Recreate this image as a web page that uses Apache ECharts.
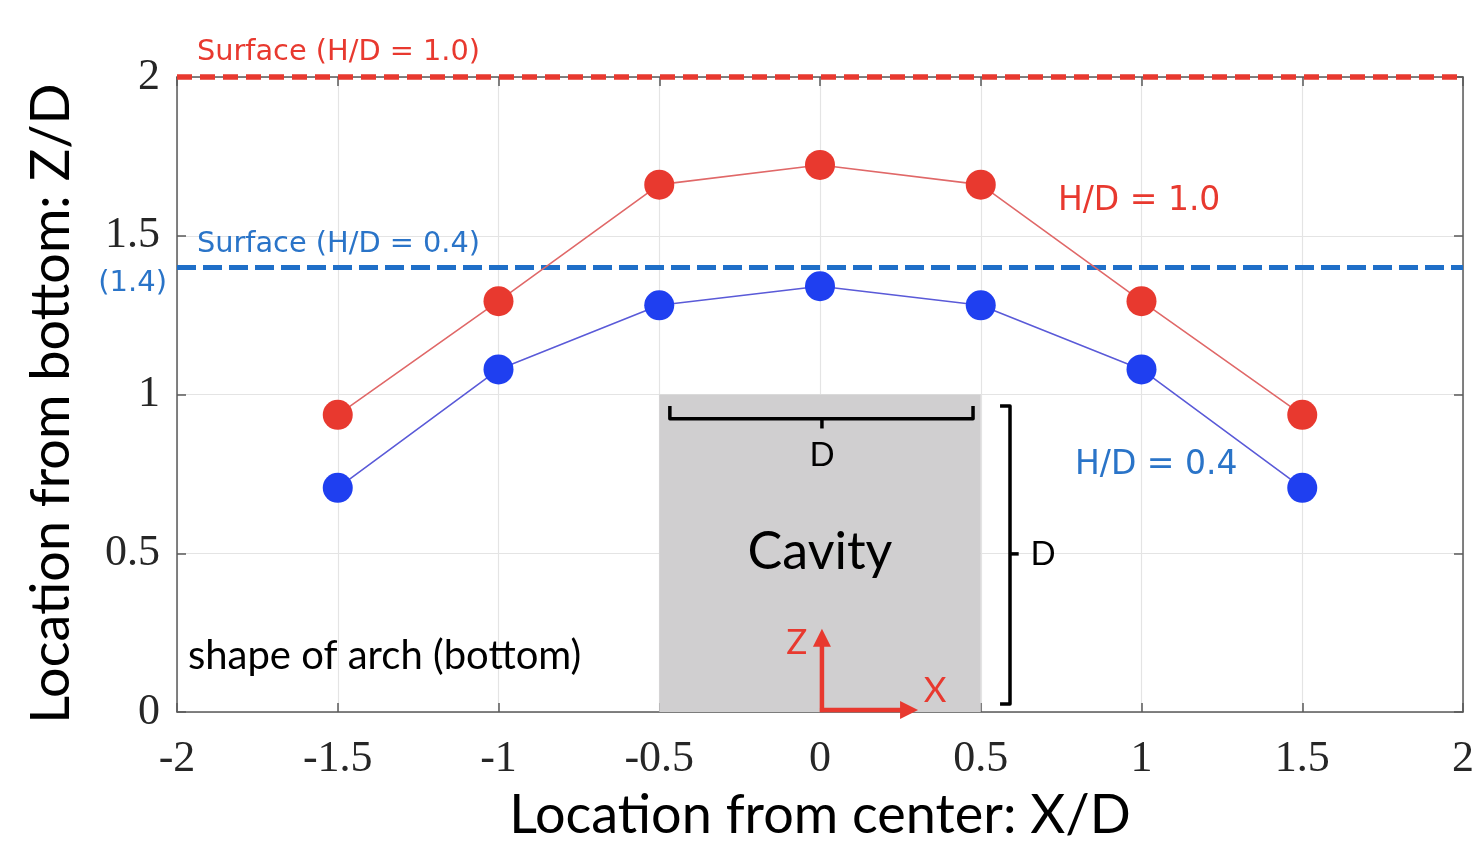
<!DOCTYPE html>
<html>
<head>
<meta charset="utf-8">
<script src="https://cdn.jsdelivr.net/npm/echarts@6/dist/echarts.min.js"></script>
<style>html,body{margin:0;padding:0;background:#fff}#c{width:1477px;height:848px}</style>
</head>
<body>
<div id="c"></div>
<script>
// ---- data ----
const xPositions = [-1.5, -1, -0.5, 0, 0.5, 1, 1.5];
const archHD10 = [0.936, 1.294, 1.661, 1.723, 1.661, 1.294, 0.936];
const archHD04 = [0.706, 1.079, 1.281, 1.341, 1.281, 1.079, 0.706];
const surfaceHD10 = 2.0;
const surfaceHD04 = 1.4;
const xTicks = [-2, -1.5, -1, -0.5, 0, 0.5, 1, 1.5, 2];
const yTicks = [0, 0.5, 1, 1.5, 2];
const cavity = [-0.5, 0, 0.5, 1]; // x0, y0, x1, y1 (in D units)

// annotation texts with anchor in data coords
const annoTexts = ['Surface (H/D = 1.0)', 'Surface (H/D = 0.4)', '(1.4)', 'H/D = 1.0', 'H/D = 0.4', 'shape of arch (bottom)', 'Cavity', 'D', 'D', 'Z', 'X'];
const annoX = [-1.938, -1.938, -2.031, 0.740, 0.793, -1.966, 0.0, 0.006, 0.655, -0.072, 0.358];
const annoY = [2.078, 1.471, 1.35, 1.608, 0.778, 0.177, 0.504, 0.809, 0.498, 0.218, 0.068];

const RED = '#e8392f', BLUE = '#1f3ff0', TBLUE = '#2a74c8';
const annoStyle = [
  {c: RED, s: 28.8, f: 'DejaVu Sans', a: 'left'},
  {c: TBLUE, s: 28.8, f: 'DejaVu Sans', a: 'left'},
  {c: TBLUE, s: 29, f: 'DejaVu Sans', a: 'right'},
  {c: RED, s: 33, f: 'DejaVu Sans', a: 'left'},
  {c: TBLUE, s: 33, f: 'DejaVu Sans', a: 'left'},
  {c: '#000', s: 40, f: 'Lato', a: 'left'},
  {c: '#000', s: 52, f: 'Lato', a: 'center'},
  {c: '#000', s: 33, f: 'Lato', a: 'center'},
  {c: '#000', s: 33, f: 'Lato', a: 'left'},
  {c: RED, s: 35, f: 'Lato', a: 'center'},
  {c: RED, s: 35, f: 'Lato', a: 'center'}
];

const chart = echarts.init(document.getElementById('c'));
const serif = 'Liberation Serif';
const axisCommon = {
  type: 'value', min: -2, max: 2, interval: 0.5,
  axisLine: {show: true, onZero: false, lineStyle: {color: '#5a5a5a', width: 1.5}},
  axisTick: {show: true, inside: true, length: 9, lineStyle: {color: '#5a5a5a', width: 1.5}},
  splitLine: {show: false}
};

chart.setOption({
  animation: false,
  grid: {left: 177, top: 77, width: 1286, height: 643, containLabel: false},
  xAxis: [
    Object.assign({}, axisCommon, {
      position: 'bottom',
      name: 'Location from center: X/D', nameLocation: 'middle', nameGap: 77,
      nameTextStyle: {fontFamily: 'Lato', fontSize: 54, color: '#000'},
      axisLabel: {fontFamily: serif, fontSize: 44, color: '#262626', margin: 25,
        formatter: v => xTicks.indexOf(v) >= 0 ? String(v) : ''},
      splitLine: {show: true, lineStyle: {color: '#e4e4e4', width: 1.2}}
    }),
    Object.assign({}, axisCommon, {position: 'top', axisLabel: {show: false}})
  ],
  yAxis: [
    Object.assign({}, axisCommon, {
      min: 0, max: 2, interval: 0.5, position: 'left',
      name: 'Location from bottom: Z/D', nameLocation: 'middle', nameGap: 98,
      nameTextStyle: {fontFamily: 'Lato', fontSize: 54, color: '#000', padding: [0, 18, 0, 0]},
      axisLabel: {fontFamily: serif, fontSize: 44, color: '#262626', margin: 17,
        formatter: v => yTicks.indexOf(v) >= 0 ? String(v) : ''},
      splitLine: {show: true, lineStyle: {color: '#e4e4e4', width: 1.2}}
    }),
    Object.assign({}, axisCommon, {min: 0, max: 2, interval: 0.5, position: 'right', axisLabel: {show: false}})
  ],
  series: [
    {
      type: 'custom', name: 'cavity', z: 1, clip: false,
      data: [cavity],
      renderItem: (params, api) => {
        const p0 = api.coord([api.value(0), api.value(3)]);
        const p1 = api.coord([api.value(2), api.value(1)]);
        return {type: 'rect', shape: {x: p0[0], y: p0[1], width: p1[0] - p0[0], height: p1[1] - p0[1]},
          style: {fill: '#d0cfd0'}};
      }
    },
    {
      type: 'custom', name: 'dimensions', z: 3, clip: false,
      data: [cavity],
      renderItem: (params, api) => {
        const c = (x, y) => api.coord([x, y]);
        const x0 = api.value(0), x1 = api.value(2), y1 = api.value(3);
        const blk = {stroke: '#000', lineWidth: 3.5, fill: null, lineJoin: 'round'};
        // horizontal brace
        const a = c(x0 + 0.033, y1 - 0.036), b = c(x0 + 0.033, y1 - 0.076), m = c((x0 + x1) / 2 + 0.006, y1 - 0.076),
              m2 = c((x0 + x1) / 2 + 0.006, y1 - 0.107), d = c(x1 - 0.024, y1 - 0.076), e = c(x1 - 0.024, y1 - 0.036);
        // vertical brace
        const va = c(x1 + 0.06, y1 - 0.036), vb = c(x1 + 0.091, y1 - 0.036), vc = c(x1 + 0.091, 0.025), vd = c(x1 + 0.06, 0.025);
        const vm = c(x1 + 0.091, (y1) / 2 - 0.002), vm2 = c(x1 + 0.118, (y1) / 2 - 0.002);
        // axes arrows
        const o = c(0.006, 0.006), zt = c(0.006, 0.262), xt = c(0.305, 0.006);
        const redS = {stroke: RED, lineWidth: 4.5, fill: null};
        return {type: 'group', children: [
          {type: 'polyline', shape: {points: [a, b, d, e]}, style: blk},
          {type: 'line', shape: {x1: m[0], y1: m[1], x2: m2[0], y2: m2[1]}, style: blk},
          {type: 'polyline', shape: {points: [va, vb, vc, vd]}, style: blk},
          {type: 'line', shape: {x1: vm[0], y1: vm[1], x2: vm2[0], y2: vm2[1]}, style: blk},
          {type: 'line', shape: {x1: o[0], y1: o[1] + 2, x2: zt[0], y2: zt[1] + 14}, style: redS},
          {type: 'polygon', shape: {points: [[zt[0], zt[1]], [zt[0] - 9, zt[1] + 18], [zt[0] + 9, zt[1] + 18]]}, style: {fill: RED}},
          {type: 'line', shape: {x1: o[0] - 2, y1: o[1], x2: xt[0] - 14, y2: xt[1]}, style: redS},
          {type: 'polygon', shape: {points: [[xt[0], xt[1]], [xt[0] - 18, xt[1] - 9], [xt[0] - 18, xt[1] + 9]]}, style: {fill: RED}}
        ]};
      }
    },
    {
      type: 'line', name: 'Surface (H/D = 1.0)', z: 4, symbol: 'none', clip: false,
      data: [[-2, surfaceHD10], [2, surfaceHD10]],
      lineStyle: {color: RED, width: 5.5, type: [15, 8]}
    },
    {
      type: 'line', name: 'Surface (H/D = 0.4)', z: 4, symbol: 'none', clip: false,
      data: [[-2, surfaceHD04], [2, surfaceHD04]],
      lineStyle: {color: '#1f6fc8', width: 5, type: [19, 7]}
    },
    {
      type: 'line', name: 'H/D = 1.0', z: 5,
      data: xPositions.map((x, i) => [x, archHD10[i]]),
      symbol: 'circle', symbolSize: 30,
      lineStyle: {color: '#e06868', width: 1.6},
      itemStyle: {color: RED}
    },
    {
      type: 'line', name: 'H/D = 0.4', z: 5,
      data: xPositions.map((x, i) => [x, archHD04[i]]),
      symbol: 'circle', symbolSize: 30,
      lineStyle: {color: '#5a5ad8', width: 1.6},
      itemStyle: {color: BLUE}
    },
    {
      type: 'custom', name: 'annotations', z: 6, clip: false,
      data: annoTexts.map((t, i) => [annoX[i], annoY[i], i]),
      renderItem: (params, api) => {
        const i = api.value(2);
        const p = api.coord([api.value(0), api.value(1)]);
        const st = annoStyle[i];
        return {type: 'text', x: p[0], y: p[1],
          style: {text: annoTexts[i], fill: st.c, fontSize: st.s, fontFamily: st.f, align: st.a, verticalAlign: 'middle'}};
      }
    }
  ]
});
</script>
</body>
</html>
